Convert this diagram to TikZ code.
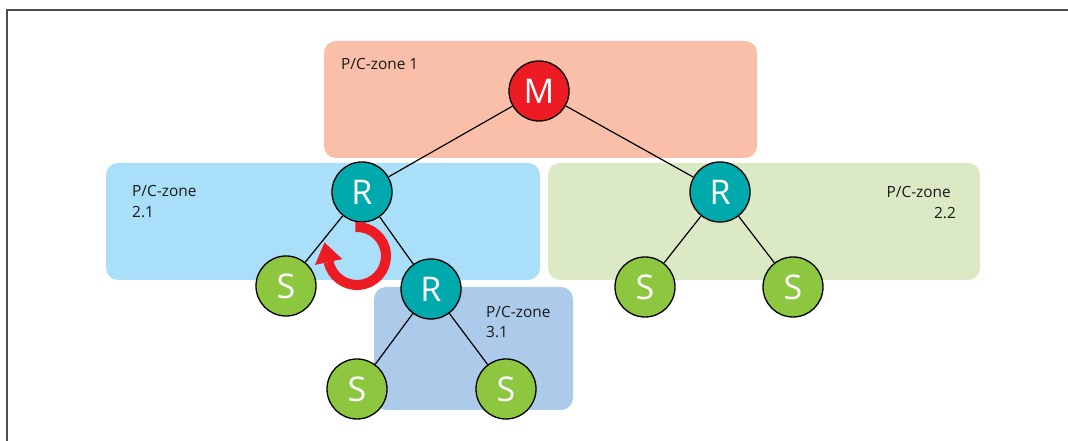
\documentclass[tikz,border=0pt]{standalone}
\usepackage{fontspec}
\setmainfont{Open Sans}
\usetikzlibrary{calc}
\definecolor{zoneA}{HTML}{F9BFA8}
\definecolor{zoneB}{HTML}{A9DFF8}
\definecolor{zoneC}{HTML}{DCE9C5}
\definecolor{zoneD}{HTML}{ACCAEA}
\definecolor{mred}{HTML}{ED1C24}
\definecolor{rteal}{HTML}{00A9AC}
\definecolor{sgreen}{HTML}{8DC63F}
\definecolor{framegray}{HTML}{4D4D4D}
\tikzset{
  zone/.style={rounded corners=12pt},
  dev/.style={circle, draw=black, line width=1.3pt, minimum size=60pt, inner sep=0pt,
              text=white, font=\fontsize{34}{34}\selectfont},
  master/.style={dev, fill=mred},
  relay/.style={dev, fill=rteal},
  slave/.style={dev, fill=sgreen},
  link/.style={draw=black, line width=1.2pt},
  zlabel/.style={font=\fontsize{15.4}{21}\selectfont, inner sep=0pt, text=black!90},
  turn/.style={draw=mred, line width=10pt},
}
\begin{document}
\begin{tikzpicture}[x=1pt, y=1pt]
  \useasboundingbox (0,0) rectangle (1068,441);
  % frame edges
  \draw[framegray, line width=2pt] (7,0) -- (7,431) -- (1068,431);

  % zones
  \fill[zoneA, zone] (324,283) rectangle (757,400);
  \fill[zoneB, zone] (106,161) rectangle (540,278);
  \fill[zoneC, zone] (548,161) rectangle (980,278);
  \fill[zoneD, zone] (374,31) rectangle (573,154);

  % zone labels
  \node[zlabel, anchor=base west] (l1) at (341,371) {P/C-zone 1};
  \node[zlabel, anchor=base west] (l21a) at (132,244) {P/C-zone};
  \node[zlabel, anchor=base west] (l21b) at (132,223) {2.1};
  \node[zlabel, anchor=base east] (l22a) at (951,243) {P/C-zone};
  \node[zlabel, anchor=base east] (l22b) at (956,222) {2.2};
  \node[zlabel, anchor=base west] (l31a) at (486,123) {P/C-zone};
  \node[zlabel, anchor=base west] (l31b) at (486,103) {3.1};

  % devices
  \node[master] (m)  at (539,350) {M};
  \node[relay]  (r1) at (362,249) {R};
  \node[relay]  (r2) at (720,249) {R};
  \node[relay]  (r3) at (431,152) {R};
  \node[slave]  (s1) at (286,155) {S};
  \node[slave]  (s2) at (357,52)  {S};
  \node[slave]  (s3) at (506,52)  {S};
  \node[slave]  (s4) at (645,154) {S};
  \node[slave]  (s5) at (793,154) {S};

  % links
  \path[link] (m) -- (r1);
  \path[link] (m) -- (r2);
  \path[link] (r1) -- (s1);
  \path[link] (r1) -- (r3);
  \path[link] (r3) -- (s2);
  \path[link] (r3) -- (s3);
  \path[link] (r2) -- (s4);
  \path[link] (r2) -- (s5);

  % circular turn arrow
  \coordinate (tc) at (357,185);
  \draw[turn] ([shift={(93:29)}]tc) arc[start angle=93, end angle=-168, radius=29];
  \coordinate (tb) at ([shift={(-168:29)}]tc);
  \fill[mred] ($(tb)+(-0.208*20,0.978*20)$) -- ($(tb)+(0.978*14,0.208*14)$) -- ($(tb)+(-0.978*14,-0.208*14)$) -- cycle;
\end{tikzpicture}
\end{document}
